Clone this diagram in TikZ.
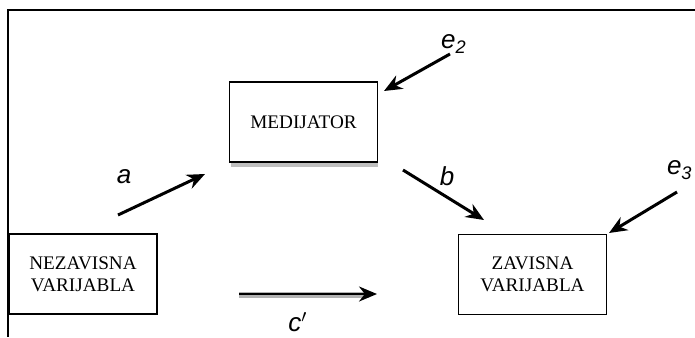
\documentclass[tikz,border=0pt]{standalone}
\usepackage{fontspec}
\setmainfont{Liberation Serif}
\setsansfont{Liberation Sans}
\usetikzlibrary{arrows.meta}
\usetikzlibrary{positioning}

\tikzset{
	varbox/.style={draw, line width=0.7pt, minimum width=74pt, minimum height=40pt,
		inner sep=0pt, align=center, font=\fontsize{9.6}{11}\selectfont},
	patharrow/.style={line width=1.5pt, -{Stealth[length=9pt,width=7.5pt]}},
	coef/.style={font=\sffamily\itshape\fontsize{13}{13}\selectfont, inner sep=0pt}
}

\begin{document}
\begin{tikzpicture}[x=0.5pt,y=-0.5pt]
	\useasboundingbox (0,0) rectangle (695,337);
	
	% frame
	\draw[line width=0.8pt] (695,10) -- (8,10) -- (8,337);
	
	% variables
	\node[varbox] (nez) at (83,274) {NEZAVISNA\\VARIJABLA};
	\node[varbox] (med) at (303.5,122) {MEDIJATOR};
	\node[varbox] (zav) at (532.5,274.5) {ZAVISNA\\VARIJABLA};
	\fill[black!25] ([xshift=1pt]med.south west) rectangle ([yshift=-2pt]med.south east);
	\draw[line width=0.7pt] (med.south west) -- (med.south east);
	
	% path a
	\coordinate (a1) at (118,215);
	\coordinate (a2) at (205,174);
	\draw[patharrow] (a1) -- (a2);
	\node[coef] (la) at (124,177) {a};
	
	% path b
	\coordinate (b1) at (403,170);
	\coordinate (b2) at (484,220);
	\draw[patharrow] (b1) -- (b2);
	\node[coef] (lb) at (447,176) {b};
	
	% path c'
	\coordinate (c1) at (239,294);
	\coordinate (c2) at (377,294);
	\draw[black!30, line width=2.8pt] ([yshift=-0.6pt]c1) -- ([yshift=-0.6pt,xshift=-4pt]c2);
	\draw[patharrow, line width=1.2pt] (c1) -- (c2);
	\node[coef] (lc) at (298,322) {c$'$};
	
	% errors
	\coordinate (e21) at (450,54);
	\coordinate (e22) at (384,91);
	\draw[patharrow] (e21) -- (e22);
	\node[coef] (le2) at (454,44) {e\textsubscript{2}};
	
	\coordinate (e31) at (677,192);
	\coordinate (e32) at (609,233);
	\draw[patharrow] (e31) -- (e32);
	\node[coef, anchor=east] (le3) at (693,170) {e\textsubscript{3}};
\end{tikzpicture}
\end{document}
